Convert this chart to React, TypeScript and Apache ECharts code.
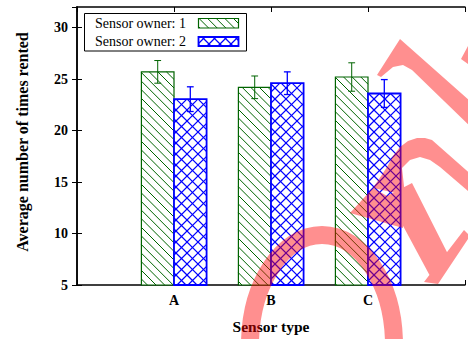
import React, { useEffect, useRef } from 'react';
import * as echarts from 'echarts';

const categories = ['A', 'B', 'C'];
const seriesNames = ['Sensor owner: 1', 'Sensor owner: 2'];
const owner1Values = [25.7, 24.2, 25.2];
const owner1Errors = [1.1, 1.1, 1.38];
const owner2Values = [23.05, 24.6, 23.6];
const owner2Errors = [1.2, 1.1, 1.35];
const yTickValues = [5, 10, 15, 20, 25, 30];

const FONT = '"Liberation Serif", "DejaVu Serif", serif';
const GREEN = '#006400';
const BLUE = '#0000ff';
const WM = 'rgba(255,0,0,0.44)';

// watermark glyph fragments (decoration only)
const wmPolys: number[][][] = [
  [[350, 213], [373, 188], [403, 205], [403, 228]],
  [[373, 188], [387, 167], [393, 156], [400, 147], [408, 141], [417, 138], [425, 138], [432, 140], [474, 177], [474, 196], [440, 167], [430, 160], [420, 157], [410, 160], [402, 168], [405, 195]],
  [[387, 196], [412, 183], [452, 262], [430, 276]],
  [[424, 282], [464, 230], [470, 236], [438, 284]],
  [[400, 39], [480, 110], [480, 136], [412, 70], [403, 65], [393, 67], [381, 77], [377, 75]],
  [[468, 46], [461, 59], [468, 64]],
];

function polyToD(polys: number[][][]): string {
  return polys
    .map((p) => {
      let a = 0;
      for (let i = 0; i < p.length; i++) {
        const q = p[i], r = p[(i + 1) % p.length];
        a += q[0] * r[1] - r[0] * q[1];
      }
      const pts = a < 0 ? p.slice().reverse() : p;
      return 'M' + pts.map((q) => q[0] + ' ' + q[1]).join(' L') + ' Z';
    })
    .join(' ');
}

echarts.graphic.registerShape('wmglyph', echarts.graphic.extendPath(polyToD(wmPolys), {}) as any);

type Seg = [number, number, number, number];

function diagSegs(x0: number, y0: number, x1: number, y1: number, s: number, dir: number): Seg[] {
  const out: Seg[] = [];
  if (dir > 0) {
    const cStart = Math.floor((y0 - x1) / s) * s;
    for (let c = cStart; c <= y1 - x0; c += s) {
      const xs = Math.max(x0, y0 - c);
      const xe = Math.min(x1, y1 - c);
      if (xe > xs) out.push([xs, xs + c, xe, xe + c]);
    }
  } else {
    const cStart = Math.floor((y0 + x0) / s) * s;
    for (let c = cStart; c <= y1 + x1; c += s) {
      const xs = Math.max(x0, c - y1);
      const xe = Math.min(x1, c - y0);
      if (xe > xs) out.push([xs, c - xs, xe, c - xe]);
    }
  }
  return out;
}

function patternSegs(kind: number, x0: number, y0: number, x1: number, y1: number): Seg[] {
  if (kind === 0) return diagSegs(x0, y0, x1, y1, 8.6, 1);
  return diagSegs(x0, y0, x1, y1, 11, 1).concat(diagSegs(x0, y0, x1, y1, 11, -1));
}

function makeRender(kind: number) {
  const color = kind === 0 ? GREEN : BLUE;
  const hatchW = kind === 0 ? 1 : 1.2;
  const borderW = kind === 0 ? 1.2 : 1.8;
  return (params: any, api: any) => {
    const xv = api.value(0);
    const yv = api.value(1);
    const err = api.value(2);
    const top = api.coord([xv, yv]);
    const base = api.coord([xv, 5]);
    const bandW = api.size([1, 0])[0];
    const w = bandW * 0.336;
    const x0 = kind === 0 ? top[0] - w : top[0];
    const x1 = x0 + w;
    const y0 = top[1];
    const y1 = base[1];
    const children: any[] = [];
    children.push({ type: 'rect', shape: { x: x0, y: y0, width: w, height: y1 - y0 }, style: { fill: '#fff' } });
    patternSegs(kind, x0, y0, x1, y1).forEach((sg) => {
      children.push({
        type: 'line',
        shape: { x1: sg[0], y1: sg[1], x2: sg[2], y2: sg[3] },
        style: { stroke: color, lineWidth: hatchW },
      });
    });
    children.push({
      type: 'rect',
      shape: { x: x0, y: y0, width: w, height: y1 - y0 },
      style: { fill: 'none', stroke: color, lineWidth: borderW },
    });
    const cx = (x0 + x1) / 2;
    const eT = api.coord([xv, yv + err])[1];
    const eB = api.coord([xv, yv - err])[1];
    const ew = kind === 0 ? 1 : 1.3;
    children.push({ type: 'line', shape: { x1: cx, y1: eT, x2: cx, y2: eB }, style: { stroke: color, lineWidth: ew } });
    children.push({ type: 'line', shape: { x1: cx - 3.4, y1: eT, x2: cx + 3.4, y2: eT }, style: { stroke: color, lineWidth: ew } });
    children.push({ type: 'line', shape: { x1: cx - 3.4, y1: eB, x2: cx + 3.4, y2: eB }, style: { stroke: color, lineWidth: ew } });
    return { type: 'group', children };
  };
}

function legendGraphics(): any[] {
  const els: any[] = [];
  els.push({
    type: 'rect',
    shape: { x: 84.5, y: 13.5, width: 162, height: 37.5 },
    style: { fill: '#fff', stroke: '#000', lineWidth: 1 },
    z: 50,
  });
  const rows = [
    { y: 23.3, sy: 18.5, sh: 9.5, kind: 0, color: GREEN },
    { y: 41.3, sy: 37, sh: 9, kind: 1, color: BLUE },
  ];
  rows.forEach((r, i) => {
    els.push({
      type: 'text',
      x: 95,
      y: r.y,
      style: { text: seriesNames[i], font: `14px ${FONT}`, fill: '#000', verticalAlign: 'middle', align: 'left' },
      z: 51,
    });
    const sx0 = 198.5, sx1 = 238.5;
    patternSegs(r.kind, sx0, r.sy, sx1, r.sy + r.sh).forEach((sg) => {
      els.push({
        type: 'line',
        shape: { x1: sg[0], y1: sg[1], x2: sg[2], y2: sg[3] },
        style: { stroke: r.color, lineWidth: r.kind === 0 ? 1 : 1.2 },
        z: 51,
      });
    });
    els.push({
      type: 'rect',
      shape: { x: sx0, y: r.sy, width: sx1 - sx0, height: r.sh },
      style: { fill: 'none', stroke: r.color, lineWidth: r.kind === 0 ? 1.2 : 1.8 },
      z: 52,
    });
  });
  return els;
}

function watermark(): any[] {
  return [
    {
      type: 'ellipse',
      shape: { cx: 322, cy: 345, rx: 72, ry: 110 },
      style: { fill: 'none', stroke: WM, lineWidth: 18 },
      z: 100,
    },
    {
      type: 'wmglyph',
      x: 0,
      y: 0,
      scaleX: 1,
      scaleY: 1,
      style: { fill: WM },
      z: 100,
    },
  ];
}

export default function App() {
  const ref = useRef<HTMLDivElement>(null);
  useEffect(() => {
    if (!ref.current) return;
    document.body.style.margin = '0';
    const chart = echarts.init(ref.current, undefined, { renderer: 'svg' });
    const axisLine = { show: true, lineStyle: { color: '#000', width: 1.5 } };
    const tick = { show: true, inside: true, length: 5, lineStyle: { color: '#000', width: 1 } };
    const labelStyle = { fontFamily: FONT, fontSize: 14, fontWeight: 'bold', color: '#000' };
    chart.setOption({
      animation: false,
      backgroundColor: '#fff',
      grid: { left: 77, top: 7, width: 393, height: 280, containLabel: false },
      xAxis: [
        {
          type: 'value',
          position: 'bottom',
          min: 0,
          max: 4,
          interval: 1,
          axisLine,
          axisTick: tick,
          splitLine: { show: false },
          axisLabel: {
            ...labelStyle,
            margin: 8,
            formatter: (v: number) => categories[v - 1] ?? '',
          },
          name: 'Sensor type',
          nameLocation: 'middle',
          nameGap: 33,
          nameTextStyle: { ...labelStyle, fontSize: 15.5 },
        },
        {
          type: 'value',
          position: 'top',
          min: 0,
          max: 4,
          interval: 1,
          axisLine,
          axisTick: tick,
          splitLine: { show: false },
          axisLabel: { show: false },
        },
      ],
      yAxis: [
        {
          type: 'value',
          min: 5,
          max: 32,
          interval: 5,
          axisLine,
          axisTick: tick,
          splitLine: { show: false },
          axisLabel: {
            ...labelStyle,
            margin: 9,
            showMaxLabel: false,
            formatter: (v: number) => (yTickValues.includes(v) ? String(v) : ''),
          },
        },
        {
          type: 'value',
          position: 'right',
          min: 5,
          max: 32,
          interval: 5,
          axisLine,
          axisTick: tick,
          splitLine: { show: false },
          axisLabel: { show: false },
        },
      ],
      series: [
        {
          type: 'custom',
          name: seriesNames[0],
          renderItem: makeRender(0),
          data: categories.map((c, i) => [i + 1, owner1Values[i], owner1Errors[i]]),
          z: 3,
        },
        {
          type: 'custom',
          name: seriesNames[1],
          renderItem: makeRender(1),
          data: categories.map((c, i) => [i + 1, owner2Values[i], owner2Errors[i]]),
          z: 3,
        },
      ],
      graphic: [
        {
          type: 'text',
          x: 22,
          y: 142,
          rotation: Math.PI / 2,
          style: {
            text: 'Average number of times rented',
            font: `bold 16px ${FONT}`,
            fill: '#000',
            align: 'center',
            verticalAlign: 'middle',
          },
        },
        ...legendGraphics(),
        ...watermark(),
      ],
    });
    return () => chart.dispose();
  }, []);
  return <div ref={ref} style={{ position: 'absolute', left: 0, top: 0, width: 468, height: 339, background: '#fff' }} />;
}
